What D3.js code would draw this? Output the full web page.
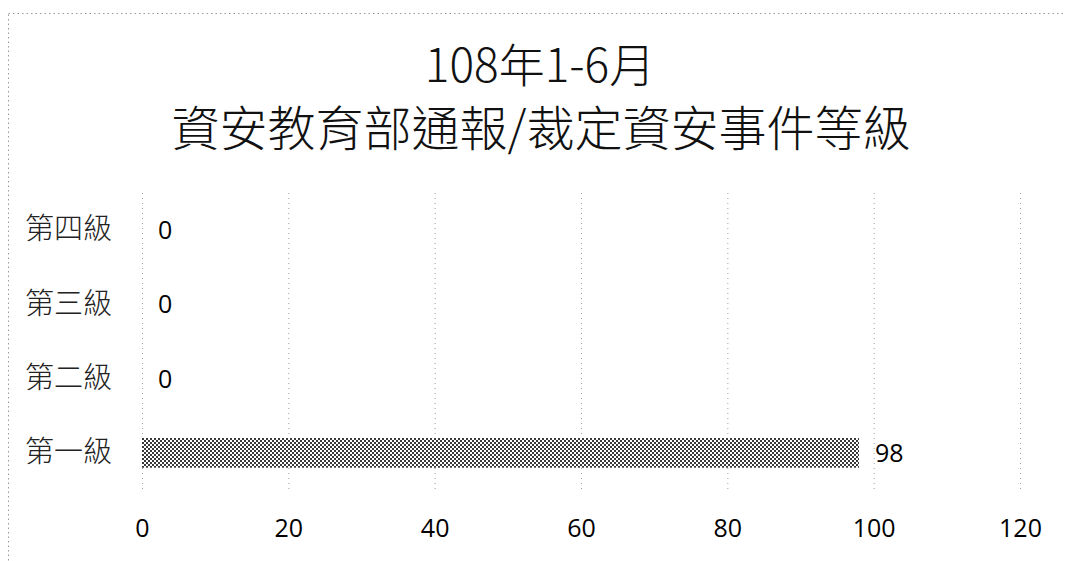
<!DOCTYPE html>
<html><head><meta charset="utf-8">
<script src="https://cdn.jsdelivr.net/npm/d3@7"></script>
<style>body{margin:0;background:#fff}svg{display:block}</style>
</head><body><svg id="c" width="1065" height="561"></svg>
<script>
const titleLines = ["108年1-6月", "資安教育部通報/裁定資安事件等級"];
const categories = ["第四級", "第三級", "第二級", "第一級"];
const values = [0, 0, 0, 98];
const xTicks = [0, 20, 40, 60, 80, 100, 120];

const svg = d3.select("#c");
const W = 1065, H = 561;
const m = {left: 142, right: 45, top: 193, bottom: 71};
const cjk = "'Noto Sans CJK TC','Noto Sans CJK SC',sans-serif";
const num = "'Open Sans','Noto Sans',sans-serif";

svg.append("rect").attr("x", 8.5).attr("y", 13.5).attr("width", W + 10).attr("height", H + 10)
  .attr("fill", "none").attr("stroke", "#9a9a9a").attr("stroke-dasharray", "1.5,3");

const defs = svg.append("defs");
const pat = defs.append("pattern").attr("id", "dots").attr("patternUnits", "userSpaceOnUse")
  .attr("width", 4).attr("height", 4);
pat.append("rect").attr("width", 4).attr("height", 4).attr("fill", "#fff");
pat.append("rect").attr("x", 0).attr("y", 0).attr("width", 2).attr("height", 2).attr("fill", "#3a3a3a");
pat.append("rect").attr("x", 2).attr("y", 2).attr("width", 2).attr("height", 2).attr("fill", "#3a3a3a");

const x = d3.scaleLinear().domain([0, 120]).range([m.left, W - m.right]);
const y = d3.scaleBand().domain(categories).range([m.top, H - m.bottom]).paddingInner(0.6).paddingOuter(0.3);

// gridlines
svg.append("g").selectAll("line").data(xTicks).join("line")
  .attr("x1", d => x(d) + 0.5).attr("x2", d => x(d) + 0.5)
  .attr("y1", m.top).attr("y2", H - m.bottom)
  .attr("stroke", "#a0a0a0").attr("stroke-width", 1).attr("stroke-dasharray", "1,4");

// bars
svg.append("g").selectAll("rect").data(categories).join("rect")
  .attr("x", x(0)).attr("y", d => y(d))
  .attr("width", (d, i) => x(values[i]) - x(0)).attr("height", y.bandwidth())
  .attr("fill", "url(#dots)");

// data labels
svg.append("g").selectAll("text").data(categories).join("text")
  .attr("x", (d, i) => x(values[i]) + 16).attr("y", d => y(d) + y.bandwidth() / 2)
  .attr("dy", "0.36em").attr("font-family", num).attr("font-size", 25).attr("fill", "#000")
  .text((d, i) => values[i]);

// y axis labels
const ya = d3.axisLeft(y).tickSize(0).tickPadding(30);
const yg = svg.append("g").attr("transform", `translate(${m.left},0)`).call(ya);
yg.select(".domain").remove();
yg.selectAll("text").attr("font-family", cjk).attr("font-size", 29).attr("font-weight", 300).attr("fill", "#222");

// x axis labels
const xa = d3.axisBottom(x).tickValues(xTicks).tickSize(0).tickPadding(29);
const xg = svg.append("g").attr("transform", `translate(0,${H - m.bottom})`).call(xa);
xg.select(".domain").remove();
xg.selectAll("text").attr("font-family", num).attr("font-size", 25).attr("fill", "#000");

// title
svg.append("text").attr("x", 540).attr("y", 82).attr("text-anchor", "middle")
  .attr("font-family", cjk).attr("font-size", 46).attr("font-weight", 300).attr("fill", "#111").text(titleLines[0]);
svg.append("text").attr("x", 541).attr("y", 146).attr("text-anchor", "middle")
  .attr("font-family", cjk).attr("font-size", 48).attr("font-weight", 300).attr("fill", "#111").text(titleLines[1]);
</script></body></html>
